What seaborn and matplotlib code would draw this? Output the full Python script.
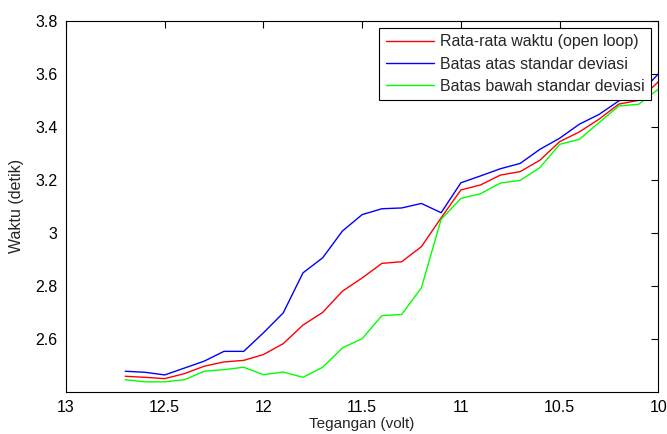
import pandas as pd
import seaborn as sns
import matplotlib
import matplotlib.pyplot as plt

matplotlib.use("Agg")
sns.set_style("white")
plt.rcParams["font.family"] = ["Liberation Sans", "DejaVu Sans"]

# tegangan (volt), dari 12.7 turun ke 10.0
tegangan = [12.7, 12.6, 12.5, 12.4, 12.3, 12.2, 12.1, 12.0, 11.9, 11.8,
            11.7, 11.6, 11.5, 11.4, 11.3, 11.2, 11.1, 11.0, 10.9, 10.8,
            10.7, 10.6, 10.5, 10.4, 10.3, 10.2, 10.1, 10.0]

rata_rata = [2.459, 2.455, 2.450, 2.469, 2.497, 2.513, 2.519, 2.541, 2.582, 2.652,
             2.700, 2.780, 2.830, 2.885, 2.891, 2.948, 3.057, 3.162, 3.181, 3.218,
             3.231, 3.274, 3.344, 3.381, 3.429, 3.486, 3.500, 3.570]

batas_atas = [2.478, 2.474, 2.464, 2.490, 2.516, 2.553, 2.553, 2.623, 2.698, 2.849,
              2.906, 3.007, 3.069, 3.091, 3.094, 3.111, 3.076, 3.189, 3.215, 3.242,
              3.262, 3.315, 3.357, 3.410, 3.447, 3.498, 3.520, 3.600]

batas_bawah = [2.446, 2.438, 2.438, 2.446, 2.478, 2.484, 2.493, 2.465, 2.475, 2.455,
               2.493, 2.566, 2.601, 2.688, 2.692, 2.793, 3.051, 3.130, 3.148, 3.188,
               3.198, 3.246, 3.334, 3.353, 3.416, 3.479, 3.485, 3.542]

label_rata = "Rata-rata waktu (open loop)"
label_atas = "Batas atas standar deviasi"
label_bawah = "Batas bawah standar deviasi"

df = pd.concat([
    pd.DataFrame({"tegangan": tegangan, "waktu": rata_rata, "seri": label_rata}),
    pd.DataFrame({"tegangan": tegangan, "waktu": batas_atas, "seri": label_atas}),
    pd.DataFrame({"tegangan": tegangan, "waktu": batas_bawah, "seri": label_bawah}),
])

warna = {label_rata: "#ff0000", label_atas: "#0000ff", label_bawah: "#00ff00"}

fig = plt.figure(figsize=(6.67, 4.34), dpi=100)
ax = fig.add_axes([0.099, 0.097, 0.888, 0.855])

sns.lineplot(data=df, x="tegangan", y="waktu", hue="seri", palette=warna,
             linewidth=1.0, sort=False, estimator=None, ax=ax)

ax.set_xlim(13, 10)
ax.set_ylim(2.4, 3.8)
ax.set_xticks([13, 12.5, 12, 11.5, 11, 10.5, 10])
ax.set_xticklabels(["13", "12.5", "12", "11.5", "11", "10.5", "10"])
ax.set_yticks([2.6, 2.8, 3.0, 3.2, 3.4, 3.6, 3.8])
ax.set_yticklabels(["2.6", "2.8", "3", "3.2", "3.4", "3.6", "3.8"])

ax.tick_params(direction="in", length=5, width=0.8, top=True, right=True,
               labelsize=11.5, colors="black", pad=6)
for s in ax.spines.values():
    s.set_color("black")
    s.set_linewidth(0.8)

ax.set_xlabel("Tegangan (volt)", fontsize=11, labelpad=1)
ax.set_ylabel("Waktu (detik)", fontsize=11.5, labelpad=8)

leg = ax.legend(loc="upper right", fontsize=11.5, frameon=True, fancybox=False,
                edgecolor="black", framealpha=1, handlelength=3.0,
                borderaxespad=0.45, borderpad=0.4, labelspacing=0.45,
                handletextpad=0.4)
leg.get_frame().set_linewidth(0.8)

plt.savefig("out.png", dpi=100)
